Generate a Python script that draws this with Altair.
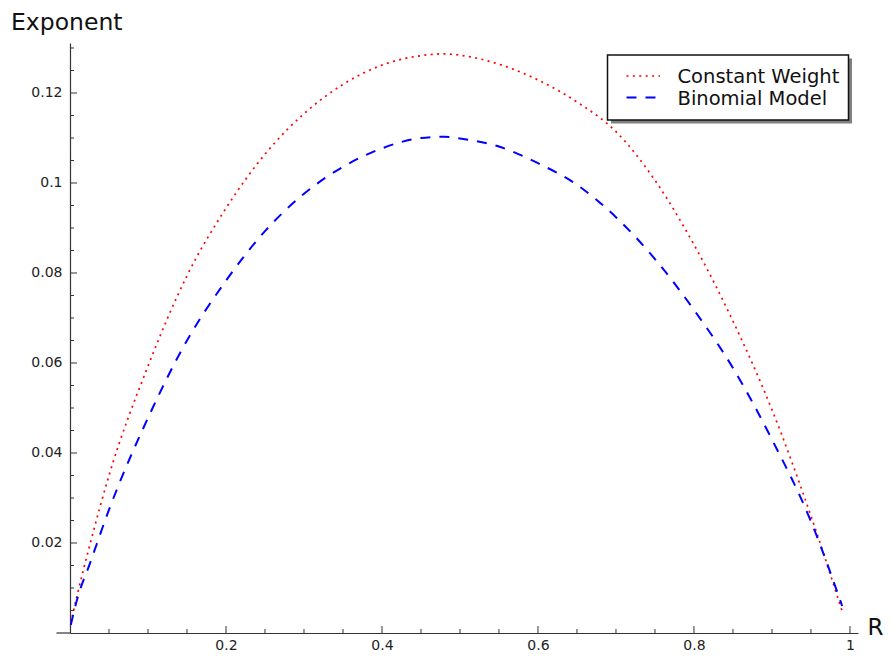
import altair as alt
import pandas as pd

# ---- data ----
R = [0.001, 0.01, 0.025, 0.05, 0.1, 0.15, 0.2, 0.25, 0.3, 0.35, 0.4, 0.45,
     0.48, 0.5, 0.55, 0.6, 0.65, 0.7, 0.75, 0.8, 0.85, 0.9, 0.95, 0.99]
constant_weight = [0.0022, 0.0090, 0.0193, 0.0350, 0.0593, 0.0794, 0.0944, 0.1064,
                   0.1154, 0.1219, 0.1262, 0.1283, 0.1287, 0.1284, 0.1264, 0.1229,
                   0.1180, 0.1114, 0.1006, 0.0863, 0.0693, 0.0496, 0.0260, 0.0048]
binomial_model = [0.0018, 0.0080, 0.0152, 0.0274, 0.0478, 0.0650, 0.0783, 0.0893,
                  0.0976, 0.1036, 0.1077, 0.1100, 0.1103, 0.1099, 0.1081, 0.1044,
                  0.0996, 0.0924, 0.0831, 0.0718, 0.0589, 0.0430, 0.0248, 0.0060]
series_names = ["Constant Weight", "Binomial Model"]
series_colors = ["#ff0000", "#0000ff"]
series_dash = [[2, 4.4], [10, 9]]
series_width = [1.7, 2.0]

x_major = [0.2, 0.4, 0.6, 0.8, 1.0]
x_minor = [0.05, 0.1, 0.15, 0.25, 0.3, 0.35, 0.45, 0.5, 0.55, 0.65, 0.7, 0.75,
           0.85, 0.9, 0.95]
y_major = [0.02, 0.04, 0.06, 0.08, 0.10, 0.12]
y_minor = [0.005, 0.01, 0.015, 0.025, 0.03, 0.035, 0.045, 0.05, 0.055, 0.065,
           0.07, 0.075, 0.085, 0.09, 0.095, 0.105, 0.11, 0.115, 0.125, 0.13]
x_title = "R"
y_title = "Exponent"

X_DOMAIN = [0, 1.0103]
Y_DOMAIN = [0, 0.13111]
W, H = 788, 590
FONT = "DejaVu Sans"
AX = "#333333"

rows = []
for name, vals in zip(series_names, [constant_weight, binomial_model]):
    for r, v in zip(R, vals):
        rows.append({"R": r, "value": v, "series": name})
df = pd.DataFrame(rows)

xs = alt.Scale(domain=X_DOMAIN, nice=False, zero=False)
ys = alt.Scale(domain=Y_DOMAIN, nice=False, zero=False)

x_axis = alt.Axis(values=x_major, format="~g", ticks=False, grid=False,
                  domainColor=AX, domainWidth=1.2, labelFont=FONT, labelFontSize=14,
                  labelColor="#222222", labelPadding=5, labelFlush=False,
                  title=x_title, titleAngle=0, titleX=797, titleY=1,
                  titleAlign="left", titleBaseline="alphabetic", titleFont=FONT,
                  titleFontSize=23, titleFontWeight="normal", titleColor="#111111")
y_axis = alt.Axis(values=y_major, format="~g", ticks=False, grid=False,
                  domainColor=AX, domainWidth=1.2, labelFont=FONT, labelFontSize=14,
                  labelColor="#222222", labelPadding=8, labelFlush=False,
                  title=y_title, titleAngle=0, titleX=-59.5, titleY=-13.5,
                  titleAlign="left", titleBaseline="alphabetic", titleFont=FONT,
                  titleFontSize=23.5, titleFontWeight="normal", titleColor="#111111")

lines = alt.Chart(df).mark_line(interpolate="monotone", strokeCap="butt").encode(
    x=alt.X("R:Q", scale=xs, axis=x_axis),
    y=alt.Y("value:Q", scale=ys, axis=y_axis),
    color=alt.Color("series:N", scale=alt.Scale(domain=series_names, range=series_colors), legend=None),
    strokeDash=alt.StrokeDash("series:N", scale=alt.Scale(domain=series_names, range=series_dash), legend=None),
    strokeWidth=alt.StrokeWidth("series:N", scale=alt.Scale(domain=series_names, range=series_width), legend=None),
    detail="series:N",
)

def xticks(vals, length):
    return alt.Chart(pd.DataFrame({"t": vals})).mark_rule(color=AX, strokeWidth=1).encode(
        x=alt.X("t:Q", scale=xs), y=alt.value(H), y2=alt.value(H - length))

def yticks(vals, length):
    return alt.Chart(pd.DataFrame({"t": vals})).mark_rule(color=AX, strokeWidth=1).encode(
        y=alt.Y("t:Q", scale=ys), x=alt.value(0), x2=alt.value(length))

axis_ext = alt.Chart(pd.DataFrame({"a": [0]})).mark_rule(color=AX, strokeWidth=1.2).encode(
    x=alt.value(-13.5), x2=alt.value(0), y=alt.value(H))

# legend box (decoration)
LX0, LX1, LY0, LY1 = 537.5, 778.5, 12, 77
one = pd.DataFrame({"a": [0]})
shadow = alt.Chart(one).mark_rect(color="#555555", opacity=0.75).encode(
    x=alt.value(LX0 + 3.5), x2=alt.value(LX1 + 3.5), y=alt.value(LY0 + 3.5), y2=alt.value(LY1 + 3.5))
box = alt.Chart(one).mark_rect(fill="white", stroke="#111111", strokeWidth=1.5).encode(
    x=alt.value(LX0), x2=alt.value(LX1), y=alt.value(LY0), y2=alt.value(LY1))

legend_layers = []
sym_y = [33, 54.5]
txt_y = [40.3, 62]
for i, name in enumerate(series_names):
    legend_layers.append(
        alt.Chart(one).mark_rule(color=series_colors[i], strokeDash=series_dash[i],
                                 strokeWidth=series_width[i], strokeCap="butt").encode(
            x=alt.value(556.5), x2=alt.value(590), y=alt.value(sym_y[i])))
    legend_layers.append(
        alt.Chart(pd.DataFrame({"label": [name]})).mark_text(
            align="left", baseline="alphabetic", font=FONT, fontSize=19.5, color="#111111").encode(
            x=alt.value(607.5), y=alt.value(txt_y[i]), text="label:N"))

chart = alt.layer(
    lines,
    xticks(x_minor, 4), xticks(x_major, 7),
    yticks(y_minor, 4), yticks(y_major, 7),
    axis_ext, shadow, box, *legend_layers,
).properties(
    width=W, height=H,
    background="white",
    autosize=alt.AutoSizeParams(type="none"),
    padding={"left": 62, "top": 35, "right": 27, "bottom": 19},
).configure_view(strokeWidth=0, stroke="transparent")

chart.save("out.html", embed_options={"renderer": "svg", "actions": False})
